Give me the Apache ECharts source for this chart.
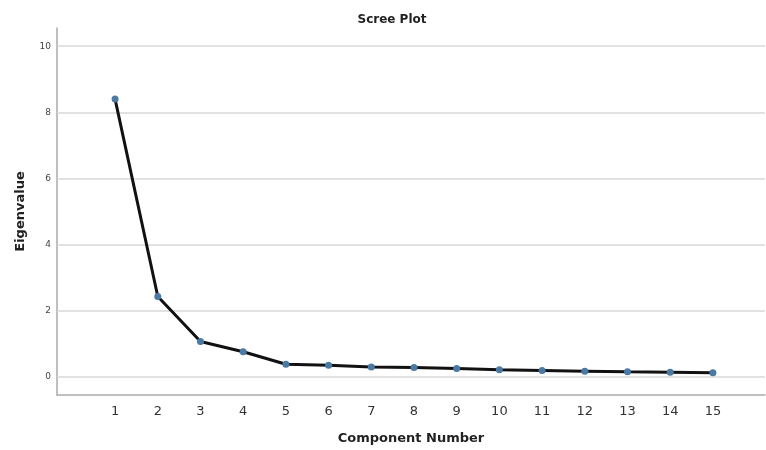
<!DOCTYPE html>
<html>
<head>
<meta charset="utf-8">
<script src="https://cdn.jsdelivr.net/npm/echarts@6/dist/echarts.min.js"></script>
<style>
	html, body { margin: 0; padding: 0; background: #fff; }
	#chart { width: 766px; height: 450px; }
</style>
</head>
<body>
<div id="chart"></div>
<script>
var components = [1, 2, 3, 4, 5, 6, 7, 8, 9, 10, 11, 12, 13, 14, 15];
var eigenvalues = [8.40, 2.43, 1.07, 0.76, 0.38, 0.35, 0.30, 0.28, 0.25, 0.21, 0.19, 0.17, 0.15, 0.14, 0.12];
var yTicks = [0, 2, 4, 6, 8, 10];

var points = components.map(function(c, i) {
	return [c, eigenvalues[i]];
});

var myChart = echarts.init(document.getElementById('chart'));
var option = {
	animation: false,
	title: {
		text: 'Scree Plot',
		left: 387,
		textAlign: 'center',
		top: 9,
		textStyle: {
			fontFamily: 'DejaVu Sans',
			fontSize: 12,
			fontWeight: 'bold',
			color: '#222'
		}
	},
	grid: {
		left: 57,
		right: 1,
		top: 28,
		bottom: 55
	},
	xAxis: {
		type: 'value',
		min: -0.36,
		max: 16.22,
		name: 'Component Number',
		nameLocation: 'middle',
		nameGap: 37,
		nameTextStyle: {
			fontFamily: 'DejaVu Sans',
			fontSize: 13,
			fontWeight: 'bold',
			color: '#222'
		},
		axisLine: { onZero: false, lineStyle: { color: '#aaa', width: 1.5 } },
		axisTick: { show: false },
		splitLine: { show: false },
		axisLabel: {
			customValues: components,
			margin: 10,
			fontFamily: 'DejaVu Sans',
			fontSize: 13,
			color: '#333'
		}
	},
	yAxis: {
		type: 'value',
		min: -0.55,
		max: 10.55,
		name: 'Eigenvalue',
		nameLocation: 'middle',
		nameGap: 30,
		nameTextStyle: {
			fontFamily: 'DejaVu Sans',
			fontSize: 13,
			fontWeight: 'bold',
			color: '#222'
		},
		axisLine: { show: true, onZero: false, lineStyle: { color: '#aaa', width: 1.5 } },
		axisTick: { show: false },
		splitLine: { show: false },
		axisLabel: {
			customValues: yTicks,
			margin: 6,
			fontFamily: 'DejaVu Sans',
			fontSize: 9,
			color: '#444'
		}
	},
	series: [{
		type: 'line',
		data: points,
		symbol: 'circle',
		symbolSize: 7,
		itemStyle: { color: '#4a7aa3' },
		lineStyle: { color: '#111', width: 3 },
		z: 3,
		markLine: {
			silent: true,
			symbol: 'none',
			label: { show: false },
			lineStyle: { color: '#d8d8d8', type: 'solid', width: 1.5 },
			data: yTicks.map(function(v) { return { yAxis: v }; }),
			z: 1
		}
	}]
};
myChart.setOption(option);
</script>
</body>
</html>
